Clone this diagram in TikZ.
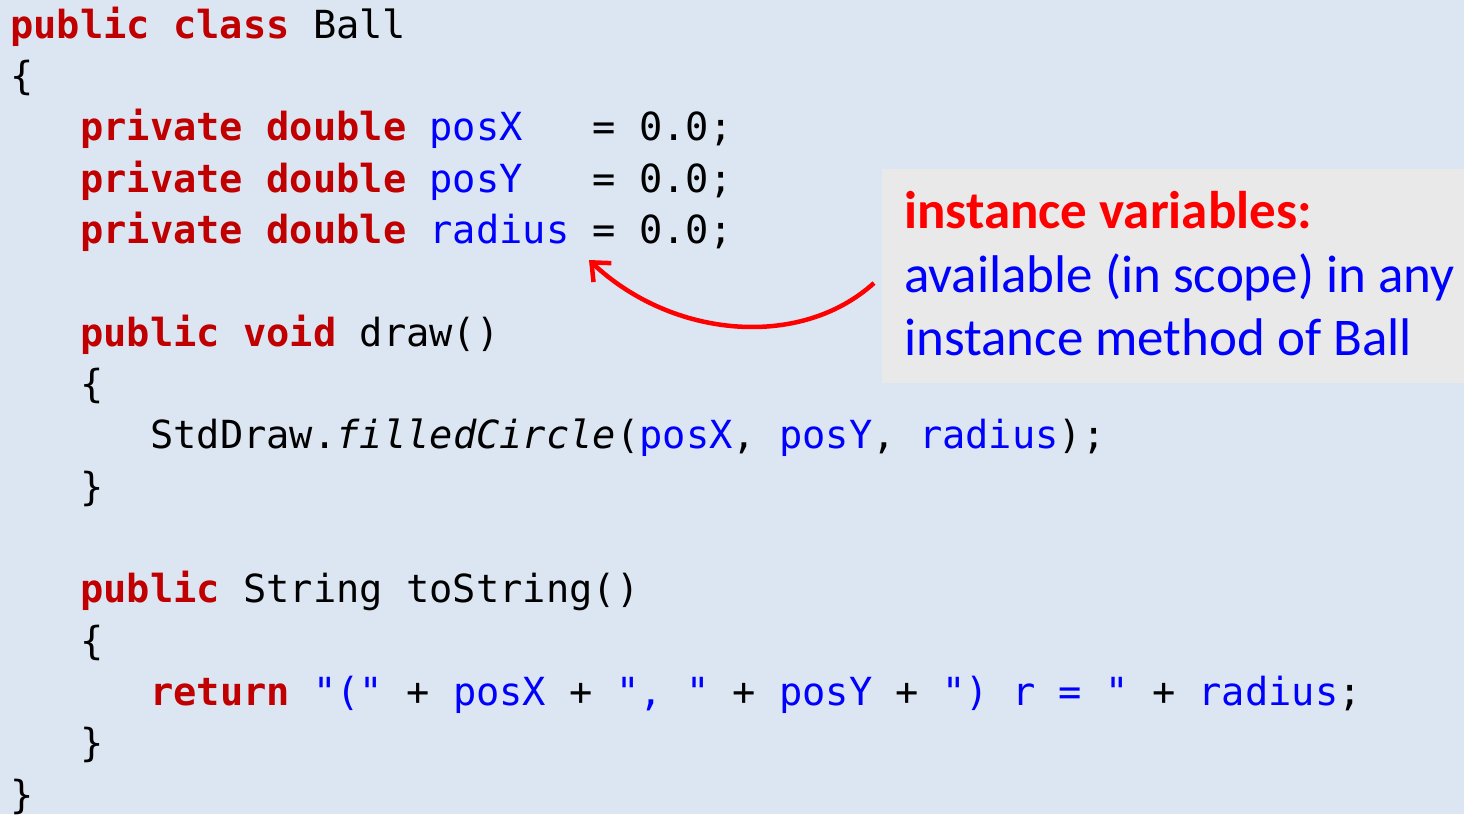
\documentclass[tikz,border=0pt]{standalone}
\usepackage{fontspec}
\setmonofont{DejaVu Sans Mono}
\newfontfamily\callfont{Carlito}
\usetikzlibrary{arrows.meta}
\definecolor{bg}{HTML}{DCE6F2}
\definecolor{kwred}{HTML}{C00000}
\definecolor{idblue}{HTML}{0000FF}
\definecolor{boxgray}{HTML}{E9E9E9}
\definecolor{callred}{HTML}{FF0000}
\newcommand\kw[1]{\textcolor{kwred}{\bfseries #1}}
\newcommand\vid[1]{\textcolor{idblue}{#1}}
\begin{document}
\begin{tikzpicture}[x=1pt,y=-1pt,
  code/.style={anchor=base west, inner sep=0pt, font=\ttfamily\fontsize{38.7}{46}\selectfont, text=black},
  calltext/.style={anchor=base west, inner sep=0pt, font=\callfont\fontsize{53}{64}\selectfont},
  pointer/.style={draw=callred, line width=4.5pt, -{Straight Barb[length=15pt,width=26pt]}}]
\fill[bg] (0,0) rectangle (1464,814);
\useasboundingbox (0,0) rectangle (1464,814);
% code lines, baseline = 38 + (n-1)*51.33
\node[code] (l1)  at (10,38)     {\kw{public} \kw{class} Ball};
\node[code] (l2)  at (10,89.3)   {\{};
\node[code] (l3)  at (80,140.7)  {\kw{private} \kw{double} \vid{posX}\ \ \ = 0.0;};
\node[code] (l4)  at (80,192)    {\kw{private} \kw{double} \vid{posY}\ \ \ = 0.0;};
\node[code] (l5)  at (80,243.3)  {\kw{private} \kw{double} \vid{radius} = 0.0;};
\node[code] (l7)  at (80,346)    {\kw{public} \kw{void} draw()};
\node[code] (l8)  at (80,397.3)  {\{};
\node[code] (l9)  at (150,448.7) {StdDraw.\textit{filledCircle}(\vid{posX}, \vid{posY}, \vid{radius});};
\node[code] (l10) at (80,500)    {\}};
\node[code] (l12) at (80,602.7)  {\kw{public} String toString()};
\node[code] (l13) at (80,654)    {\{};
\node[code] (l14) at (150,705.3) {\kw{return} \vid{"("} + \vid{posX} + \vid{", "} + \vid{posY} + \vid{") r = "} + \vid{radius};};
\node[code] (l15) at (80,756.7)  {\}};
\node[code] (l16) at (10,808)    {\}};
% callout
\node[fill=boxgray, inner sep=0pt, minimum width=582pt, minimum height=214pt, anchor=north west] (callout) at (882,169) {};
\node[calltext, text=callred, font=\callfont\bfseries\fontsize{53}{64}\selectfont] (c1) at (904,228) {instance variables:};
\node[calltext, text=idblue] (c2) at (904,292) {available (in scope) in any};
\node[calltext, text=idblue] (c3) at (904,355) {instance method of Ball};
% arrow
\coordinate (arrstart) at (874,283);
\coordinate (arrend) at (589,260);
\draw[pointer] (arrstart) .. controls (800,350) and (672,338) .. (arrend);
\end{tikzpicture}
\end{document}
